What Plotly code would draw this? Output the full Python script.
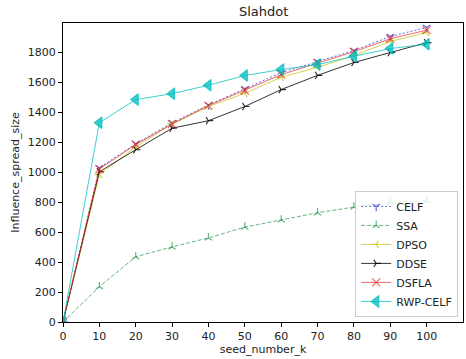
import plotly.graph_objects as go

seed_k = [0, 10, 20, 30, 40, 50, 60, 70, 80, 90, 100]

celf = [0, 1030, 1191, 1332, 1450, 1558, 1667, 1740, 1814, 1908, 1968]
ssa = [0, 236, 436, 502, 562, 634, 682, 730, 768, 797, 810]
dpso = [0, 985, 1170, 1325, 1440, 1528, 1635, 1702, 1780, 1874, 1934]
ddse = [0, 1004, 1151, 1295, 1345, 1440, 1553, 1648, 1734, 1800, 1867]
dsfla = [0, 1022, 1186, 1322, 1446, 1547, 1653, 1730, 1806, 1893, 1950]
rwp_celf = [0, 1332, 1486, 1526, 1582, 1647, 1687, 1720, 1776, 1827, 1856]

series = [
    ("CELF", celf, "rgba(40,60,200,0.75)", "2px,2px", "y-down-open", 6),
    ("SSA", ssa, "rgba(20,140,60,0.65)", "4px,2px", "y-up-open", 6),
    ("DPSO", dpso, "rgba(205,205,50,0.85)", "solid", "y-left-open", 6),
    ("DDSE", ddse, "rgba(0,0,0,0.8)", "solid", "y-right-open", 6),
    ("DSFLA", dsfla, "rgba(235,40,40,0.7)", "solid", "x-thin-open", 8),
    ("RWP-CELF", rwp_celf, "rgba(0,190,190,0.75)", "solid", "triangle-left", 10),
]

fig = go.Figure()
for name, vals, color, dash, symbol, size in series:
    fig.add_trace(go.Scatter(
        x=seed_k, y=vals, name=name, mode="lines+markers",
        line=dict(color=color, width=1, dash=dash),
        marker=dict(symbol=symbol, size=size, color=color,
                    line=dict(color=color, width=1.2)),
    ))

axis_common = dict(
    showgrid=False, zeroline=False, showline=True, mirror=True,
    linecolor="black", linewidth=1, ticks="outside", ticklen=4,
    tickcolor="black", tickfont=dict(size=11, color="#222"),
)

fig.update_layout(
    width=466, height=359,
    margin=dict(l=63, r=3, t=23, b=37),
    paper_bgcolor="white", plot_bgcolor="white",
    font=dict(family="DejaVu Sans", size=11, color="#222"),
    xaxis=dict(range=[0, 110], tickvals=[0, 10, 20, 30, 40, 50, 60, 70, 80, 90, 100],
               title=dict(text="seed_number_k", standoff=3, font=dict(size=11)),
               **axis_common),
    yaxis=dict(range=[0, 1998], tickvals=[0, 200, 400, 600, 800, 1000, 1200, 1400, 1600, 1800],
               title=dict(text="Influence_spread_size", standoff=5, font=dict(size=11)),
               **axis_common),
    legend=dict(x=0.988, y=0.017, xanchor="right", yanchor="bottom",
                bgcolor="rgba(255,255,255,0.8)", bordercolor="#cccccc", borderwidth=1,
                font=dict(size=11), tracegroupgap=0, itemwidth=30),
    showlegend=True,
    annotations=[dict(text="Slahdot", xref="x", yref="paper", x=55, y=1,
                      xanchor="center", yanchor="bottom", yshift=2, showarrow=False,
                      font=dict(size=13, color="#222"))],
)

fig.write_html("out.html")
